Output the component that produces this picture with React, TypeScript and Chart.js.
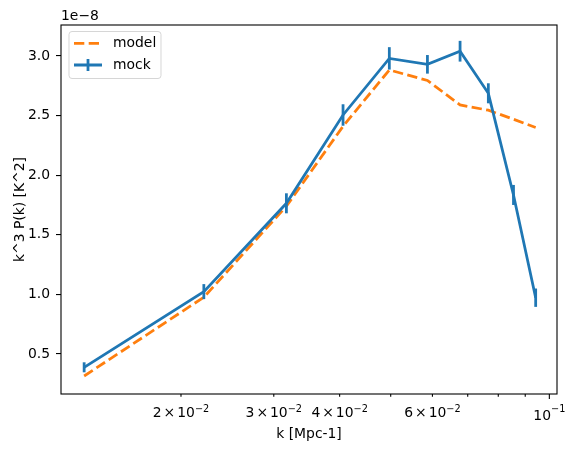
import React, { useEffect, useRef } from "react";
import { Chart, registerables } from "chart.js";

Chart.register(...registerables);

// k values [Mpc-1]
const kValues = [0.0131, 0.0221, 0.0317, 0.0406, 0.0497, 0.0587, 0.0677, 0.0766, 0.0855, 0.0942];
// values in units of 1e-8 K^2
const mockValues = [0.388, 1.023, 1.764, 2.505, 2.98, 2.93, 3.04, 2.687, 1.834, 0.972];
const mockErrors = [0.042, 0.063, 0.084, 0.09, 0.094, 0.078, 0.087, 0.084, 0.084, 0.077];
const modelValues = [0.315, 0.976, 1.74, 2.41, 2.883, 2.795, 2.589, 2.545, 2.469, 2.4];

const xTickValues = [0.02, 0.03, 0.04, 0.05, 0.06, 0.07, 0.08, 0.09, 0.1];
// tick label = mantissa × 10^exponent (empty mantissa -> pure power of ten)
const xTickMantissa = ["2", "3", "4", "", "6", "", "", "", ""];
const xTickExponent = ["−2", "−2", "−2", "", "−2", "", "", "", "−1"];
const xTickMajor = [false, false, false, false, false, false, false, false, true];
const yTickValues = [0.5, 1.0, 1.5, 2.0, 2.5, 3.0];
const yTickLabels = ["0.5", "1.0", "1.5", "2.0", "2.5", "3.0"];

const BLUE = "#1f77b4";
const ORANGE = "#ff7f0e";
const FONT = "DejaVu Sans";
const FS = 13.9;
const LW = 2.78;

export default function App() {
  const ref = useRef<HTMLCanvasElement>(null);
  useEffect(() => {
    const canvas = ref.current!;
    const overlay = {
      id: "overlay",
      afterDatasetsDraw(chart: any) {
        const ctx = chart.ctx;
        const xs = chart.scales.x;
        const ys = chart.scales.y;
        ctx.save();
        ctx.strokeStyle = BLUE;
        ctx.lineWidth = LW;
        ctx.lineCap = "butt";
        for (let i = 0; i < kValues.length; i++) {
          const x = xs.getPixelForValue(kValues[i]);
          const y1 = ys.getPixelForValue(mockValues[i] - mockErrors[i]);
          const y2 = ys.getPixelForValue(mockValues[i] + mockErrors[i]);
          ctx.beginPath();
          ctx.moveTo(x, y1);
          ctx.lineTo(x, y2);
          ctx.stroke();
        }
        ctx.restore();
      },
      afterDraw(chart: any) {
        const ctx = chart.ctx;
        const a = chart.chartArea;
        const xs = chart.scales.x;
        ctx.save();
        // frame
        ctx.strokeStyle = "#000";
        ctx.lineWidth = 1.1;
        ctx.strokeRect(a.left, a.top, a.right - a.left, a.bottom - a.top);
        // x tick marks and math-style labels
        const baseFont = `${FS}px "${FONT}"`;
        const supFont = `${FS * 0.7}px "${FONT}"`;
        ctx.fillStyle = "#000";
        ctx.textBaseline = "alphabetic";
        ctx.textAlign = "left";
        for (let i = 0; i < xTickValues.length; i++) {
          const x = xs.getPixelForValue(xTickValues[i]);
          const len = xTickMajor[i] ? 4.9 : 2.8;
          ctx.beginPath();
          ctx.moveTo(x, a.bottom);
          ctx.lineTo(x, a.bottom + len);
          ctx.stroke();
          const exp = xTickExponent[i];
          if (!exp) continue;
          const man = xTickMantissa[i];
          ctx.font = baseFont;
          const gap = 2;
          const wMan = man ? ctx.measureText(man).width : 0;
          const wTimes = man ? ctx.measureText("×").width : 0;
          const wTen = ctx.measureText("10").width;
          ctx.font = supFont;
          const wExp = ctx.measureText(exp).width;
          const total = man ? wMan + gap + wTimes + gap + wTen + wExp : wTen + wExp;
          let cx = x - total / 2;
          const baseY = a.bottom + (man ? 23.4 : 25.6);
          const expY = a.bottom + (man ? 17.8 : 18.3);
          ctx.font = baseFont;
          if (man) {
            ctx.fillText(man, cx, baseY);
            cx += wMan + gap;
            ctx.fillText("×", cx, baseY);
            cx += wTimes + gap;
          }
          ctx.fillText("10", cx, baseY);
          cx += wTen;
          ctx.font = supFont;
          ctx.fillText(exp, cx, expY);
        }
        // offset text
        ctx.fillStyle = "#000";
        ctx.font = baseFont;
        ctx.textBaseline = "middle";
        ctx.textAlign = "left";
        ctx.fillText("1e−8", a.left, 16);
        // legend
        const lx = 69, ly = 31.5, lw = 92, lh = 47, r = 3;
        ctx.beginPath();
        ctx.moveTo(lx + r, ly);
        ctx.lineTo(lx + lw - r, ly);
        ctx.quadraticCurveTo(lx + lw, ly, lx + lw, ly + r);
        ctx.lineTo(lx + lw, ly + lh - r);
        ctx.quadraticCurveTo(lx + lw, ly + lh, lx + lw - r, ly + lh);
        ctx.lineTo(lx + r, ly + lh);
        ctx.quadraticCurveTo(lx, ly + lh, lx, ly + lh - r);
        ctx.lineTo(lx, ly + r);
        ctx.quadraticCurveTo(lx, ly, lx + r, ly);
        ctx.closePath();
        ctx.fillStyle = "rgba(255,255,255,0.8)";
        ctx.fill();
        ctx.strokeStyle = "rgba(204,204,204,0.8)";
        ctx.lineWidth = 1;
        ctx.stroke();
        // model entry
        ctx.strokeStyle = ORANGE;
        ctx.lineWidth = LW;
        ctx.setLineDash([10.3, 4.4]);
        ctx.beginPath();
        ctx.moveTo(74, 43.3);
        ctx.lineTo(102, 43.3);
        ctx.stroke();
        ctx.setLineDash([]);
        // mock entry
        ctx.strokeStyle = BLUE;
        ctx.beginPath();
        ctx.moveTo(74, 65);
        ctx.lineTo(102, 65);
        ctx.moveTo(88, 59);
        ctx.lineTo(88, 71);
        ctx.stroke();
        ctx.fillStyle = "#000";
        ctx.fillText("model", 113, 43.3);
        ctx.fillText("mock", 113, 65);
        ctx.restore();
      },
    };

    const chart = new Chart(canvas, {
      type: "line",
      data: {
        datasets: [
          {
            label: "mock",
            data: kValues.map((k, i) => ({ x: k, y: mockValues[i] })),
            borderColor: BLUE,
            backgroundColor: BLUE,
            borderWidth: LW,
            pointRadius: 0,
            tension: 0,
            fill: false,
          },
          {
            label: "model",
            data: kValues.map((k, i) => ({ x: k, y: modelValues[i] })),
            borderColor: ORANGE,
            backgroundColor: ORANGE,
            borderWidth: LW,
            borderDash: [10.3, 4.4],
            pointRadius: 0,
            tension: 0,
            fill: false,
          },
        ],
      },
      plugins: [overlay],
      options: {
        animation: false,
        responsive: false,
        devicePixelRatio: 1,
        layout: { padding: { top: 25, right: 18, left: 0, bottom: 0 } },
        plugins: { legend: { display: false }, tooltip: { enabled: false } },
        scales: {
          x: {
            type: "logarithmic",
            min: 0.01184,
            max: 0.1034,
            afterBuildTicks: (s: any) => {
              s.ticks = xTickValues.map((v) => ({ value: v }));
            },
            afterFit: (s: any) => {
              s.height = 58;
            },
            border: { display: false },
            grid: { display: false },
            ticks: { display: false, autoSkip: false, maxRotation: 0, minRotation: 0 },
            title: {
              display: true,
              text: "k [Mpc-1]",
              color: "#000",
              font: { family: FONT, size: FS },
              padding: { top: 0, bottom: 9.7 },
            },
          },
          y: {
            type: "linear",
            min: 0.164,
            max: 3.26,
            afterBuildTicks: (s: any) => {
              s.ticks = yTickValues.map((v) => ({ value: v }));
            },
            afterFit: (s: any) => {
              s.width = 61;
            },
            border: { display: false },
            grid: { display: true, drawOnChartArea: false, color: "#000", lineWidth: 1.1, tickLength: 5 },
            ticks: {
              autoSkip: false,
              padding: 6,
              color: "#000",
              font: { family: FONT, size: FS },
              callback: (_v: any, i: number) => yTickLabels[i],
            },
            title: {
              display: true,
              text: "k^3 P(k) [K^2]",
              color: "#000",
              font: { family: FONT, size: FS },
              padding: { top: 11.7, bottom: 0 },
            },
          },
        },
      },
    });
    return () => chart.destroy();
  }, []);
  return (
    <div style={{ position: "fixed", left: 0, top: 0, width: 575, height: 452, background: "#fff" }}>
      <canvas ref={ref} width={575} height={452} style={{ display: "block" }} />
    </div>
  );
}
